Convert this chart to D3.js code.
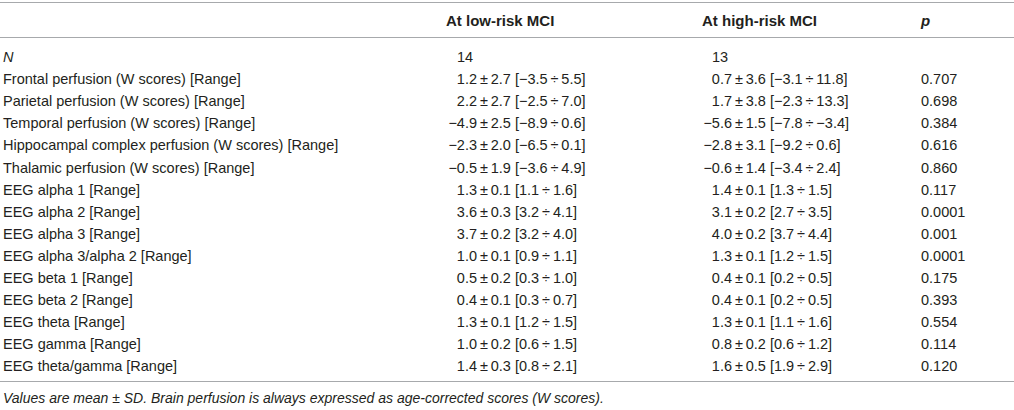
<!DOCTYPE html>
<html>
<head>
<meta charset="utf-8">
<script src="https://cdn.jsdelivr.net/npm/d3@7"></script>
<style>
  body { margin: 0; background: #fff; }
  svg { display: block; font-family: "Liberation Sans", Arial, sans-serif; }
</style>
</head>
<body>
<svg width="1014" height="410"></svg>
<script>
// table content
const rowLabels = [
  "N",
  "Frontal perfusion (W scores) [Range]",
  "Parietal perfusion (W scores) [Range]",
  "Temporal perfusion (W scores) [Range]",
  "Hippocampal complex perfusion (W scores) [Range]",
  "Thalamic perfusion (W scores) [Range]",
  "EEG alpha 1 [Range]",
  "EEG alpha 2 [Range]",
  "EEG alpha 3 [Range]",
  "EEG alpha 3/alpha 2 [Range]",
  "EEG beta 1 [Range]",
  "EEG beta 2 [Range]",
  "EEG theta [Range]",
  "EEG gamma [Range]",
  "EEG theta/gamma [Range]"
];
const columnHeaders = ["At low-risk MCI", "At high-risk MCI", "p"];

const lowN = 14;
const lowMean = ["1.2", "2.2", "−4.9", "−2.3", "−0.5", "1.3", "3.6", "3.7", "1.0", "0.5", "0.4", "1.3", "1.0", "1.4"];
const lowSD = ["2.7", "2.7", "2.5", "2.0", "1.9", "0.1", "0.3", "0.2", "0.1", "0.2", "0.1", "0.1", "0.2", "0.3"];
const lowRange = [
  ["−3.5", "5.5"], ["−2.5", "7.0"], ["−8.9", "0.6"], ["−6.5", "0.1"], ["−3.6", "4.9"],
  ["1.1", "1.6"], ["3.2", "4.1"], ["3.2", "4.0"], ["0.9", "1.1"], ["0.3", "1.0"],
  ["0.3", "0.7"], ["1.2", "1.5"], ["0.6", "1.5"], ["0.8", "2.1"]
];

const highN = 13;
const highMean = ["0.7", "1.7", "−5.6", "−2.8", "−0.6", "1.4", "3.1", "4.0", "1.3", "0.4", "0.4", "1.3", "0.8", "1.6"];
const highSD = ["3.6", "3.8", "1.5", "3.1", "1.4", "0.1", "0.2", "0.2", "0.1", "0.1", "0.1", "0.1", "0.2", "0.5"];
const highRange = [
  ["−3.1", "11.8"], ["−2.3", "13.3"], ["−7.8", "−3.4"], ["−9.2", "0.6"], ["−3.4", "2.4"],
  ["1.3", "1.5"], ["2.7", "3.5"], ["3.7", "4.4"], ["1.2", "1.5"], ["0.2", "0.5"],
  ["0.2", "0.5"], ["1.1", "1.6"], ["0.6", "1.2"], ["1.9", "2.9"]
];

const pValues = ["0.707", "0.698", "0.384", "0.616", "0.860", "0.117", "0.0001", "0.001", "0.0001", "0.175", "0.393", "0.554", "0.114", "0.120"];

const footnote = "Values are mean ± SD. Brain perfusion is always expressed as age-corrected scores (W scores).";

const width = 1014;
const textColor = "#231f20";
const ruleColor = "#a7a9ac";
const fontSize = 14.5;

const svg = d3.select("svg");

const y = d3.scaleBand()
  .domain(rowLabels)
  .range([46, 377.5]);

// columns: label, low-risk (aligned on ±), high-risk, p
const colLabel = 3;
const colLow = 446;
const colHigh = 702;
const colP = 921;
const lowPm = 477;
const highPm = 732;

function hline(yPos)
{
  svg.append("line")
    .attr("x1", 0)
    .attr("x2", width)
    .attr("y1", yPos)
    .attr("y2", yPos)
    .attr("stroke", ruleColor)
    .attr("stroke-width", 1);
}

hline(2.5);
hline(37.5);
hline(381.5);

// header
const header = svg.append("g")
  .attr("font-size", 15)
  .attr("font-weight", "bold")
  .attr("fill", textColor);

[colLow, colHigh, colP].forEach((x, i) =>
{
  header.append("text")
    .attr("x", x)
    .attr("y", 26)
    .attr("font-style", i === 2 ? "italic" : null)
    .text(columnHeaders[i]);
});

// body rows
const body = svg.append("g")
  .attr("font-size", fontSize)
  .attr("fill", textColor);

const baseline = (label) => y(label) + y.bandwidth() / 2 + 5;

body.selectAll("text.label")
  .data(rowLabels)
  .join("text")
  .attr("class", "label")
  .attr("x", colLabel)
  .attr("y", (d) => baseline(d))
  .attr("font-style", (d, i) => (i === 0 ? "italic" : null))
  .text((d) => d);

// N row
body.append("text")
  .attr("x", colLow + 11)
  .attr("y", baseline(rowLabels[0]))
  .text(lowN);
body.append("text")
  .attr("x", colHigh + 10)
  .attr("y", baseline(rowLabels[0]))
  .text(highN);

function drawGroup(means, sds, ranges, pmX)
{
  const rows = rowLabels.slice(1);
  body.selectAll(null)
    .data(rows)
    .join("text")
    .attr("x", pmX)
    .attr("y", (d) => baseline(d))
    .attr("text-anchor", "end")
    .text((d, i) => means[i]);

  body.selectAll(null)
    .data(rows)
    .join("text")
    .attr("x", pmX)
    .attr("y", (d) => baseline(d))
    .attr("xml:space", "preserve")
    .text((d, i) => `\u2009±\u2009${ sds[i] } [${ ranges[i][0] }\u2009÷\u2009${ ranges[i][1] }]`);
}

drawGroup(lowMean, lowSD, lowRange, lowPm);
drawGroup(highMean, highSD, highRange, highPm);

body.selectAll("text.p")
  .data(rowLabels.slice(1))
  .join("text")
  .attr("class", "p")
  .attr("x", colP)
  .attr("y", (d) => baseline(d))
  .text((d, i) => pValues[i]);

// footnote
svg.append("text")
  .attr("x", colLabel)
  .attr("y", 403)
  .attr("font-size", 14)
  .attr("font-style", "italic")
  .attr("fill", textColor)
  .text(footnote);
</script>
</body>
</html>
